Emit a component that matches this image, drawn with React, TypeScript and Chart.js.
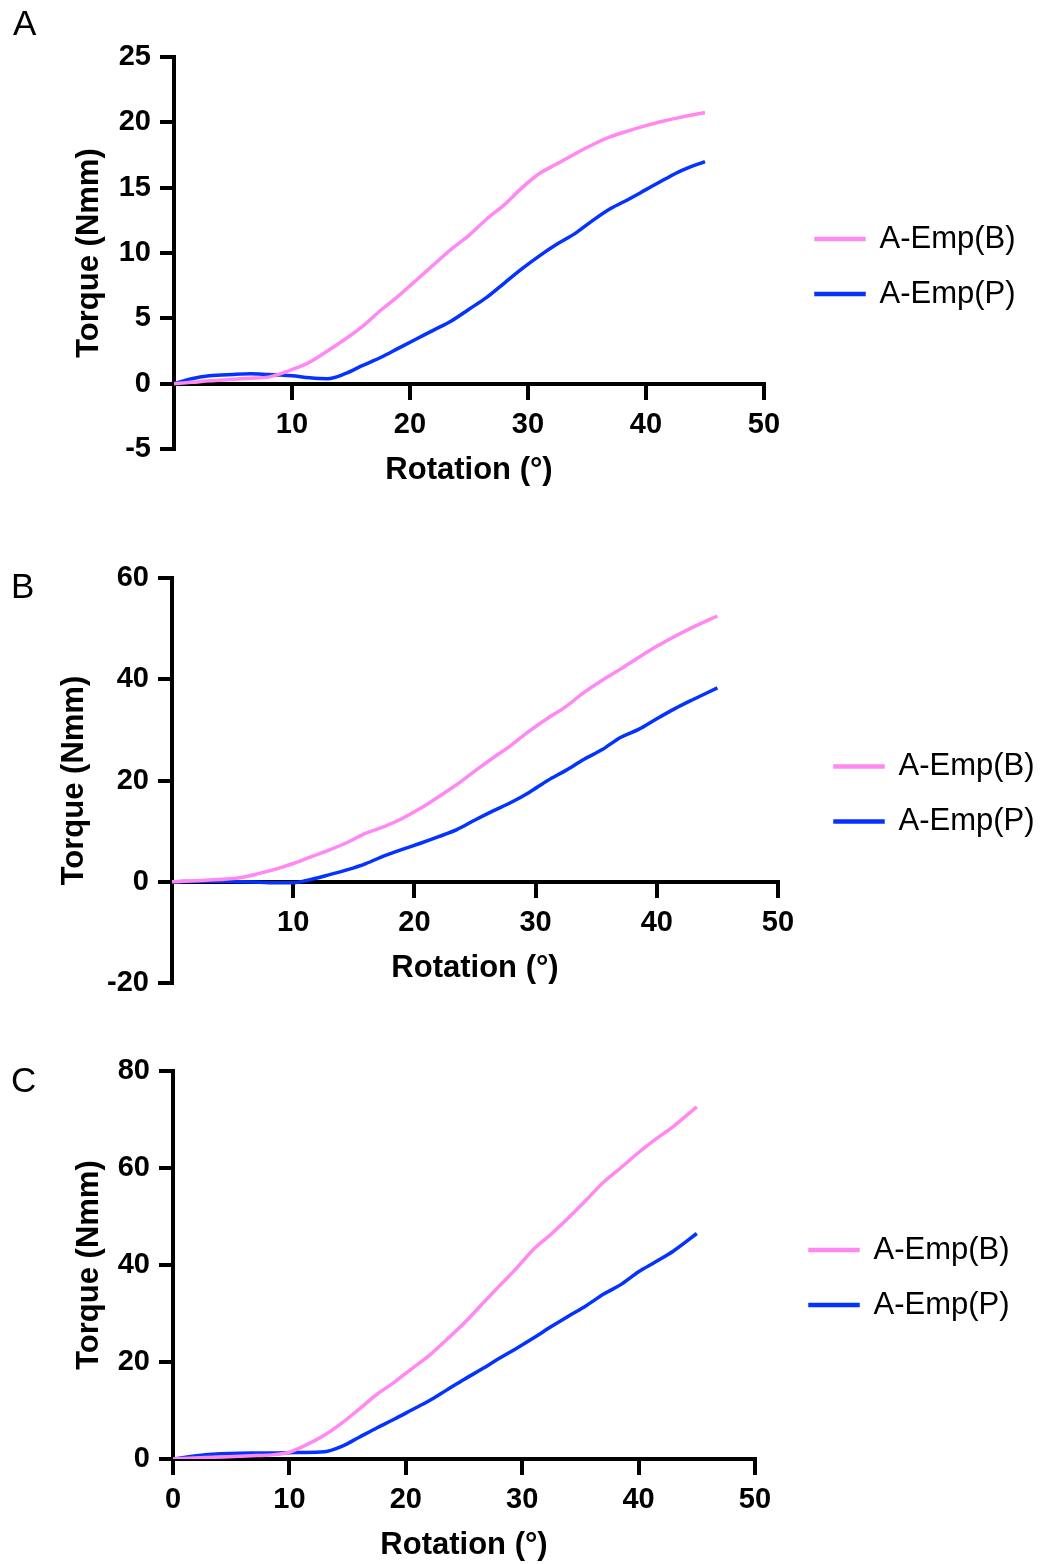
import React, { useEffect, useRef } from "react";
import { Chart, registerables } from "chart.js";

Chart.register(...registerables);

// ---- shared labels ----
const seriesLabels = ["A-Emp(B)", "A-Emp(P)"];
const seriesColors = ["#FF88F2", "#0433FF"];
const xAxisTitle = "Rotation (°)";
const yAxisTitle = "Torque (Nmm)";
const panelLetters = ["A", "B", "C"];
const xTicksMin = 0;
const xTicksMax = 50;
const xTickStep = 10;

// ---- panel A ----
const rotationA = [0, 1.5, 3, 5, 6.5, 8, 9, 10, 11.5, 13, 14.5, 16, 17.5, 19, 20.5, 22, 23.5, 25, 26.5, 28, 29.5, 31, 32.5, 34, 35.5, 37, 38.5, 40, 41.5, 43, 45];
const empBA = [0, 0.1, 0.22, 0.33, 0.42, 0.5, 0.75, 1.07, 1.65, 2.5, 3.4, 4.4, 5.6, 6.7, 7.9, 9.1, 10.3, 11.35, 12.6, 13.7, 15.0, 16.1, 16.85, 17.6, 18.3, 18.9, 19.35, 19.75, 20.1, 20.4, 20.75];
const empPA = [0, 0.38, 0.6, 0.71, 0.76, 0.7, 0.66, 0.6, 0.45, 0.38, 0.76, 1.4, 2.0, 2.7, 3.4, 4.1, 4.8, 5.7, 6.6, 7.7, 8.8, 9.8, 10.7, 11.5, 12.5, 13.4, 14.1, 14.85, 15.6, 16.3, 17.0];
const yRangeA = [-5, 25];
const yStepA = 5;

// ---- panel B ----
const rotationB = [0, 2.8, 5.7, 7.2, 8.7, 10, 11, 13, 14.5, 16, 17.5, 19, 20.5, 22, 23.5, 25, 26.5, 28, 29.5, 31, 32.5, 34, 35.5, 37, 38.5, 40, 41.5, 43, 45];
const empBB = [0, 0.3, 0.86, 1.65, 2.6, 3.6, 4.5, 6.3, 7.8, 9.6, 10.9, 12.5, 14.5, 16.8, 19.2, 21.9, 24.5, 27.0, 29.8, 32.3, 34.6, 37.4, 39.8, 42.0, 44.3, 46.5, 48.5, 50.3, 52.5];
const empPB = [0, 0.1, 0, -0.1, -0.2, -0.2, 0.2, 1.4, 2.4, 3.6, 5.1, 6.4, 7.6, 8.9, 10.3, 12.2, 14.0, 15.7, 17.7, 20.0, 22.0, 24.2, 26.1, 28.5, 30.1, 32.2, 34.2, 36.0, 38.3];
const yRangeB = [-20, 60];
const yStepB = 20;

// ---- panel C ----
const rotationC = [0, 2.8, 5.7, 7.2, 8.7, 10, 11, 13, 14.5, 16, 17.5, 19, 20.5, 22, 23.5, 25, 26.5, 28, 29.5, 31, 32.5, 34, 35.5, 37, 38.5, 40, 41.5, 43, 45];
const empBC = [0, 0.3, 0.55, 0.7, 0.9, 1.4, 2.4, 4.9, 7.4, 10.3, 13.3, 15.8, 18.6, 21.3, 24.6, 28.0, 31.8, 35.6, 39.3, 43.3, 46.4, 49.8, 53.4, 57.1, 60.1, 63.2, 66.0, 68.6, 72.6];
const empPC = [0, 0.9, 1.2, 1.22, 1.25, 1.3, 1.35, 1.5, 2.6, 4.5, 6.4, 8.2, 10.1, 12.0, 14.2, 16.4, 18.5, 20.7, 22.8, 25.0, 27.3, 29.5, 31.6, 34.0, 36.0, 38.6, 40.7, 42.9, 46.5];
const yRangeC = [0, 80];
const yStepC = 20;

const FONT = "'Liberation Sans', Arial, Helvetica, sans-serif";

type PanelDef = {
  x: number[];
  b: number[];
  p: number[];
  yRange: number[];
  yStep: number;
  showZero: boolean;
  top: number;
  h: number;
  padTop: number;
  padBottom: number;
  padRight: number;
  yAxisWidth: number;
  yTitleOffset: number;
  gap: number;
  legendShift: number;
};

const LEGEND_W = 230;

const panels: PanelDef[] = [
  { x: rotationA, b: empBA, p: empPA, yRange: yRangeA, yStep: yStepA, showZero: false, top: 0, h: 500, padTop: 57, padBottom: 51, padRight: 1053 - 792 - LEGEND_W, yAxisWidth: 174, yTitleOffset: 72, gap: 28, legendShift: 27 },
  { x: rotationB, b: empBB, p: empPB, yRange: yRangeB, yStep: yStepB, showZero: false, top: 520, h: 505, padTop: 58, padBottom: 42, padRight: 1053 - 811 - LEGEND_W, yAxisWidth: 172, yTitleOffset: 57, gap: 33, legendShift: 27 },
  { x: rotationC, b: empBC, p: empPC, yRange: yRangeC, yStep: yStepC, showZero: true, top: 1030, h: 534, padTop: 41, padBottom: 105, padRight: 1053 - 786 - LEGEND_W, yAxisWidth: 173, yTitleOffset: 72, gap: 31, legendShift: 25 },
];

const letterTops = [5, 568, 1062];
const letterLefts = [13, 11, 11];

function Panel({ d }: { d: PanelDef }) {
  const ref = useRef<HTMLCanvasElement>(null);
  useEffect(() => {
    const tickFont = { family: FONT, size: 29, weight: "bold" as const };
    const titleFont = { family: FONT, size: 31, weight: "bold" as const };
    const grid = { display: true, drawOnChartArea: false, drawTicks: true, tickLength: 14, color: "#000", lineWidth: 4 };
    const border = { display: true, color: "#000", width: 4 };
    const chart = new Chart(ref.current as HTMLCanvasElement, {
      type: "line",
      data: {
        datasets: [
          { label: seriesLabels[0], data: d.x.map((x, i) => ({ x, y: d.b[i] })), borderColor: seriesColors[0], backgroundColor: seriesColors[0], borderWidth: 3.5, pointRadius: 0, cubicInterpolationMode: "monotone" },
          { label: seriesLabels[1], data: d.x.map((x, i) => ({ x, y: d.p[i] })), borderColor: seriesColors[1], backgroundColor: seriesColors[1], borderWidth: 3.5, pointRadius: 0, cubicInterpolationMode: "monotone" },
        ],
      },
      options: {
        responsive: false,
        animation: false,
        devicePixelRatio: 1,
        layout: { padding: { left: 0, top: d.padTop, bottom: d.padBottom, right: d.padRight } },
        scales: {
          x: {
            type: "linear",
            axis: "x",
            position: { y: 0 },
            min: xTicksMin,
            max: xTicksMax,
            ticks: {
              stepSize: xTickStep,
              autoSkip: false,
              maxRotation: 0,
              padding: 10,
              color: "#000",
              font: tickFont,
              callback: (v: any) => (v === 0 && !d.showZero ? "" : String(v)),
            },
            grid,
            border,
            title: { display: true, text: xAxisTitle, color: "#000", font: titleFont, padding: { top: 0, bottom: 15 } },
            afterFit: (s: any) => { s.height = 120; },
          } as any,
          y: {
            type: "linear",
            position: "left",
            min: d.yRange[0],
            max: d.yRange[1],
            ticks: { stepSize: d.yStep, autoSkip: false, padding: 9, color: "#000", font: tickFont },
            grid,
            border,
            title: { display: true, text: yAxisTitle, color: "#000", font: titleFont, padding: { top: d.yTitleOffset - 1, bottom: 0 } },
            afterFit: (s: any) => { s.width = d.yAxisWidth; },
          },
          y2: {
            type: "linear",
            position: "right",
            display: true,
            grid: { display: false },
            ticks: { display: false },
            border: { display: false },
            afterFit: (s: any) => { s.width = d.gap; },
          },
        },
        plugins: {
          legend: {
            position: "right",
            maxWidth: LEGEND_W,
            title: { display: true, text: " ", font: { size: 10 }, padding: { top: 0, bottom: d.legendShift - 12 } },
            labels: { boxWidth: 48, boxHeight: 1, padding: 24, color: "#000", font: { family: FONT, size: 31 } },
          },
          tooltip: { enabled: false },
        },
      },
    });
    return () => chart.destroy();
  }, [d]);
  return (
    <canvas
      ref={ref}
      width={1053}
      height={d.h}
      style={{ position: "absolute", left: 0, top: d.top, width: 1053, height: d.h }}
    />
  );
}

export default function App() {
  return (
    <div>
      {panels.map((d, i) => (
        <Panel key={i} d={d} />
      ))}
      {panelLetters.map((l, i) => (
        <div
          key={l}
          style={{ position: "absolute", left: letterLefts[i], top: letterTops[i], fontFamily: FONT, fontSize: 35, lineHeight: "35px", color: "#000" }}
        >
          {l}
        </div>
      ))}
    </div>
  );
}
